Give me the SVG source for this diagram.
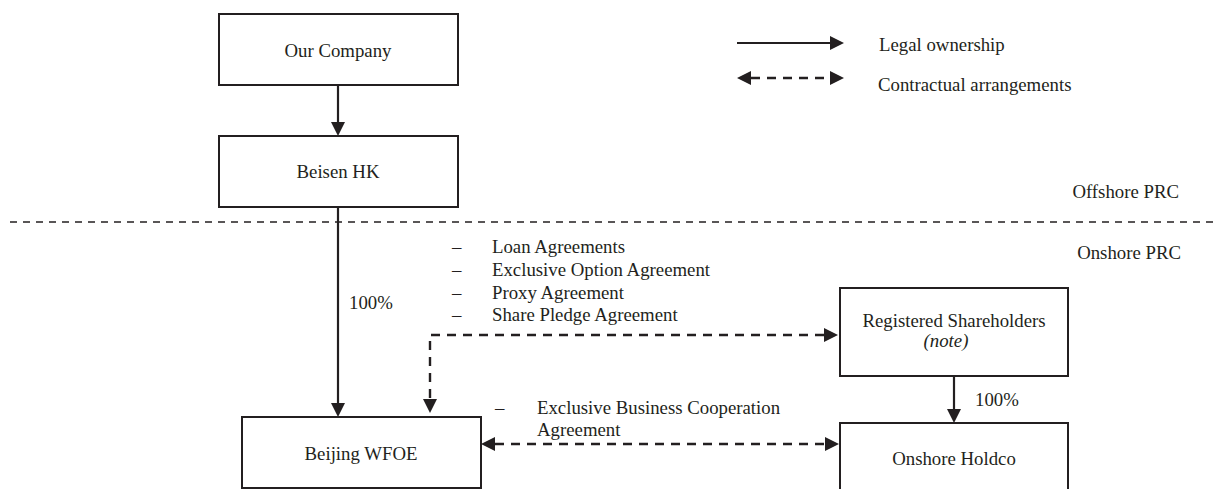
<svg xmlns="http://www.w3.org/2000/svg" width="1213" height="489" viewBox="0 0 1213 489">
<defs>
<marker id="ah" markerUnits="userSpaceOnUse" markerWidth="14" markerHeight="14" refX="0" refY="7" orient="auto-start-reverse" viewBox="0 0 14 14">
<path d="M0,0 L14,7 L0,14 z" fill="#231f20"/>
</marker>
</defs>
<style>
text{font-family:"Liberation Serif","Times New Roman",serif;font-size:18.8px;fill:#231f20}
.c{text-anchor:middle}
.box{fill:#fff;stroke:#231f20;stroke-width:2}
.solid{fill:none;stroke:#231f20;stroke-width:2.2}
.dash{fill:none;stroke:#231f20;stroke-width:2.4;stroke-dasharray:9 7}
.sep{fill:none;stroke:#231f20;stroke-width:1.4;stroke-dasharray:7 6}
</style>
<rect width="1213" height="489" fill="#fff"/>
<g id="legend">
<path class="solid" d="M737,43 H830" marker-end="url(#ah)"/>
<text x="879" y="51">Legal ownership</text>
<path class="dash" d="M751,78 H830" marker-start="url(#ah)" marker-end="url(#ah)"/>
<text x="878" y="91">Contractual arrangements</text>
</g>
<g id="regions">
<path class="sep" d="M10,222 H1213"/>
<text x="1179" y="198" text-anchor="end">Offshore PRC</text>
<text x="1181" y="259" text-anchor="end">Onshore PRC</text>
</g>
<g id="connectors">
<path class="solid" d="M338,86 V122" marker-end="url(#ah)"/>
<path class="solid" d="M338,207 V403" marker-end="url(#ah)"/>
<path class="solid" d="M954,376 V409" marker-end="url(#ah)"/>
<path class="dash" d="M824,335 H430 V399" marker-start="url(#ah)" marker-end="url(#ah)"/>
<path class="dash" d="M495,444 H825" marker-start="url(#ah)" marker-end="url(#ah)"/>
<text x="349" y="309">100%</text>
<text x="975" y="406">100%</text>
<g id="agreements1">
<text x="452" y="253">–</text><text x="492" y="253">Loan Agreements</text>
<text x="452" y="276">–</text><text x="492" y="276">Exclusive Option Agreement</text>
<text x="452" y="299">–</text><text x="492" y="299">Proxy Agreement</text>
<text x="452" y="321">–</text><text x="492" y="321">Share Pledge Agreement</text>
</g>
<g id="agreements2">
<text x="495" y="414">–</text><text x="537" y="414">Exclusive Business Cooperation</text>
<text x="537" y="436">Agreement</text>
</g>
</g>
<g id="our-company">
<rect class="box" x="219" y="14" width="239" height="71"/>
<text class="c" x="338" y="57">Our Company</text>
</g>
<g id="beisen-hk">
<rect class="box" x="219" y="136" width="239" height="71"/>
<text class="c" x="338" y="178">Beisen HK</text>
</g>
<g id="beijing-wfoe">
<rect class="box" x="242" y="417" width="239" height="71"/>
<text class="c" x="361" y="460">Beijing WFOE</text>
</g>
<g id="registered-shareholders">
<rect class="box" x="840" y="288" width="228" height="88"/>
<text class="c" x="954" y="327">Registered Shareholders</text>
<text class="c" x="946" y="347" font-style="italic">(note)</text>
</g>
<g id="onshore-holdco">
<rect class="box" x="840" y="423" width="228" height="71"/>
<text class="c" x="954" y="465">Onshore Holdco</text>
</g>
</svg>
